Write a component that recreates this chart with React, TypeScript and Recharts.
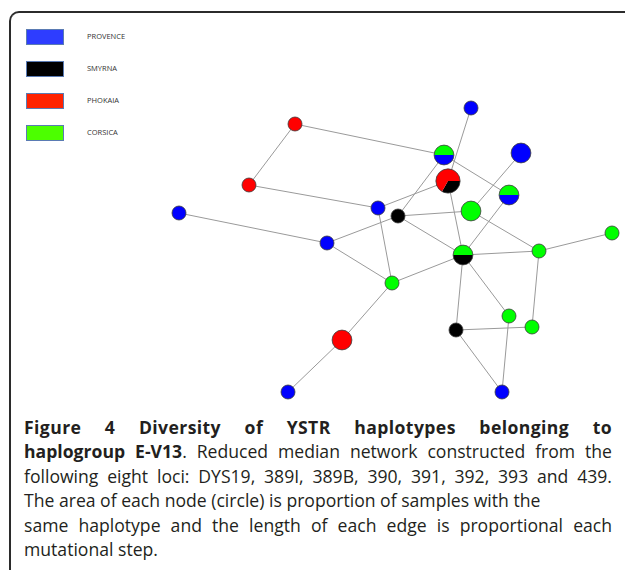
import React from "react";
import { ScatterChart, Scatter, XAxis, YAxis, ReferenceLine } from "recharts";

// populations shown in the legend
const POPULATIONS = ["PROVENCE", "SMYRNA", "PHOKAIA", "CORSICA"];
const NODE_COLORS = ["#0000ff", "#000000", "#ff0000", "#00ff00"];
const LEGEND_COLORS = ["#2e3dff", "#000000", "#ff2200", "#4cff00"];

// haplotype nodes (layout position of the network drawing)
const HAPLOTYPES = [
  "H1", "H2", "H3", "H4", "H5", "H6", "H7", "H8", "H9", "H10", "H11",
  "H12", "H13", "H14", "H15", "H16", "H17", "H18", "H19", "H20", "H21", "H22",
];
const HAP_X = [179, 327, 295, 249, 378, 398, 444, 448, 471, 521, 509, 471, 463, 539, 612, 392, 342, 288, 456, 509, 532, 502];
const HAP_Y = [213, 243, 124, 185, 208, 216, 155, 181, 108, 153, 195, 211, 255, 251, 233, 283, 340, 392, 330, 316, 327, 392];

// samples per population for each haplotype
const PROVENCE = [1, 1, 0, 0, 1, 0, 1, 0, 1, 2, 1, 0, 0, 0, 0, 0, 0, 1, 0, 0, 0, 1];
const SMYRNA = [0, 0, 0, 0, 0, 1, 0, 1, 0, 0, 0, 0, 1, 0, 0, 0, 0, 0, 1, 0, 0, 0];
const PHOKAIA = [0, 0, 1, 1, 0, 0, 0, 2, 0, 0, 0, 0, 0, 0, 0, 0, 2, 0, 0, 0, 0, 0];
const CORSICA = [0, 0, 0, 0, 0, 0, 1, 0, 0, 0, 1, 2, 1, 1, 1, 1, 0, 0, 0, 1, 1, 0];

// mutational steps
const EDGES: [string, string][] = [
  ["H1", "H2"], ["H2", "H6"], ["H2", "H16"], ["H3", "H4"], ["H3", "H7"],
  ["H4", "H5"], ["H5", "H8"], ["H5", "H16"], ["H6", "H7"], ["H6", "H12"],
  ["H6", "H13"], ["H7", "H11"], ["H9", "H8"], ["H8", "H13"], ["H10", "H12"],
  ["H11", "H13"], ["H12", "H14"], ["H13", "H14"], ["H14", "H15"], ["H13", "H16"],
  ["H13", "H19"], ["H13", "H20"], ["H14", "H21"], ["H19", "H21"], ["H19", "H22"],
  ["H20", "H22"], ["H16", "H17"], ["H17", "H18"],
];

const W = 627;
const CHART_H = 410;
// draw order of slices: corsica, provence, smyrna, phokaia
const SLICE_ORDER = [3, 0, 1, 2];
const PIE_START: Record<string, number> = { H8: 0 };

const nodes = HAPLOTYPES.map((id, i) => ({
  id,
  x: HAP_X[i],
  y: HAP_Y[i],
  counts: [PROVENCE[i], SMYRNA[i], PHOKAIA[i], CORSICA[i]],
}));
const pos = (id: string) => {
  const i = HAPLOTYPES.indexOf(id);
  return { x: HAP_X[i], y: HAP_Y[i] };
};

const NodeShape = (props: any) => {
  const { cx, cy, payload } = props;
  const counts: number[] = payload.counts;
  const total = counts.reduce((s, v) => s + v, 0);
  const r = 7 * Math.sqrt(total);
  const parts = SLICE_ORDER.filter((k) => counts[k] > 0);
  let angle = ((PIE_START[payload.id] ?? 180) * Math.PI) / 180;
  return (
    <g>
      {parts.length === 1 ? (
        <circle cx={cx} cy={cy} r={r} fill={NODE_COLORS[parts[0]]} />
      ) : (
        parts.map((k) => {
          const sweep = (counts[k] / total) * Math.PI * 2;
          const a0 = angle;
          const a1 = angle + sweep;
          angle = a1;
          const d = `M${cx},${cy} L${cx + r * Math.cos(a0)},${cy + r * Math.sin(a0)} A${r},${r} 0 ${sweep > Math.PI ? 1 : 0} 1 ${cx + r * Math.cos(a1)},${cy + r * Math.sin(a1)} Z`;
          return <path key={k} d={d} fill={NODE_COLORS[k]} />;
        })
      )}
      <circle cx={cx} cy={cy} r={r} fill="none" stroke="#3a3a3a" strokeWidth={0.8} />
    </g>
  );
};

const LegendBox = () => (
  <div style={{ position: "absolute", left: 26, top: 29 }}>
    {POPULATIONS.map((p, i) => (
      <div key={p} style={{ position: "absolute", top: i * 32, left: 0, width: 200, height: 16 }}>
        <div
          style={{
            position: "absolute",
            left: 0,
            top: 0,
            width: 36,
            height: 14,
            background: LEGEND_COLORS[i],
            border: "1px solid #5a7bb3",
          }}
        />
        <span
          style={{
            position: "absolute",
            left: 61,
            top: 3,
            fontFamily: "'Open Sans', sans-serif",
            fontSize: 7.5,
            color: "#333",
            lineHeight: "9px",
          }}
        >
          {p}
        </span>
      </div>
    ))}
  </div>
);

const lineStyle: React.CSSProperties = { height: 24.4, whiteSpace: "nowrap" };
const justified: React.CSSProperties = { height: 24.4, textAlign: "justify", textAlignLast: "justify" };

export default function App() {
  return (
    <div style={{ position: "absolute", left: 0, top: 0, width: W, height: 575, background: "#fff", overflow: "hidden" }}>
      <div
        style={{
          position: "absolute",
          left: 9,
          top: 11,
          width: 614,
          height: 557,
          borderTop: "2px solid #2b2b2b",
          borderLeft: "2px solid #2b2b2b",
          borderTopLeftRadius: 10,
        }}
      />
      <LegendBox />
      <div style={{ position: "absolute", left: 0, top: 0 }}>
        <ScatterChart width={W} height={CHART_H} margin={{ top: 0, right: 0, bottom: 0, left: 0 }}>
          <XAxis type="number" dataKey="x" domain={[0, W]} hide />
          <YAxis type="number" dataKey="y" domain={[0, CHART_H]} reversed hide />
          {EDGES.map(([a, b]) => (
            <ReferenceLine
              key={a + b}
              segment={[pos(a), pos(b)]}
              stroke="#9a9a9a"
              strokeWidth={1}
              ifOverflow="visible"
            />
          ))}
          <Scatter data={nodes} shape={<NodeShape />} isAnimationActive={false} />
        </ScatterChart>
      </div>
      <div
        style={{
          position: "absolute",
          left: 24,
          top: 415,
          width: 588,
          fontFamily: "'Open Sans', sans-serif",
          fontSize: 17.6,
          lineHeight: "24.4px",
          color: "#231f20",
        }}
      >
        <div style={{ ...justified, fontWeight: 700, letterSpacing: 0.4 }}>Figure 4 Diversity of YSTR haplotypes belonging to</div>
        <div style={justified}>
          <b>haplogroup E-V13</b>. Reduced median network constructed from the
        </div>
        <div style={justified}>following eight loci: DYS19, 389I, 389B, 390, 391, 392, 393 and 439.</div>
        <div style={lineStyle}>The area of each node (circle) is proportion of samples with the</div>
        <div style={justified}>same haplotype and the length of each edge is proportional each</div>
        <div style={lineStyle}>mutational step.</div>
      </div>
    </div>
  );
}
